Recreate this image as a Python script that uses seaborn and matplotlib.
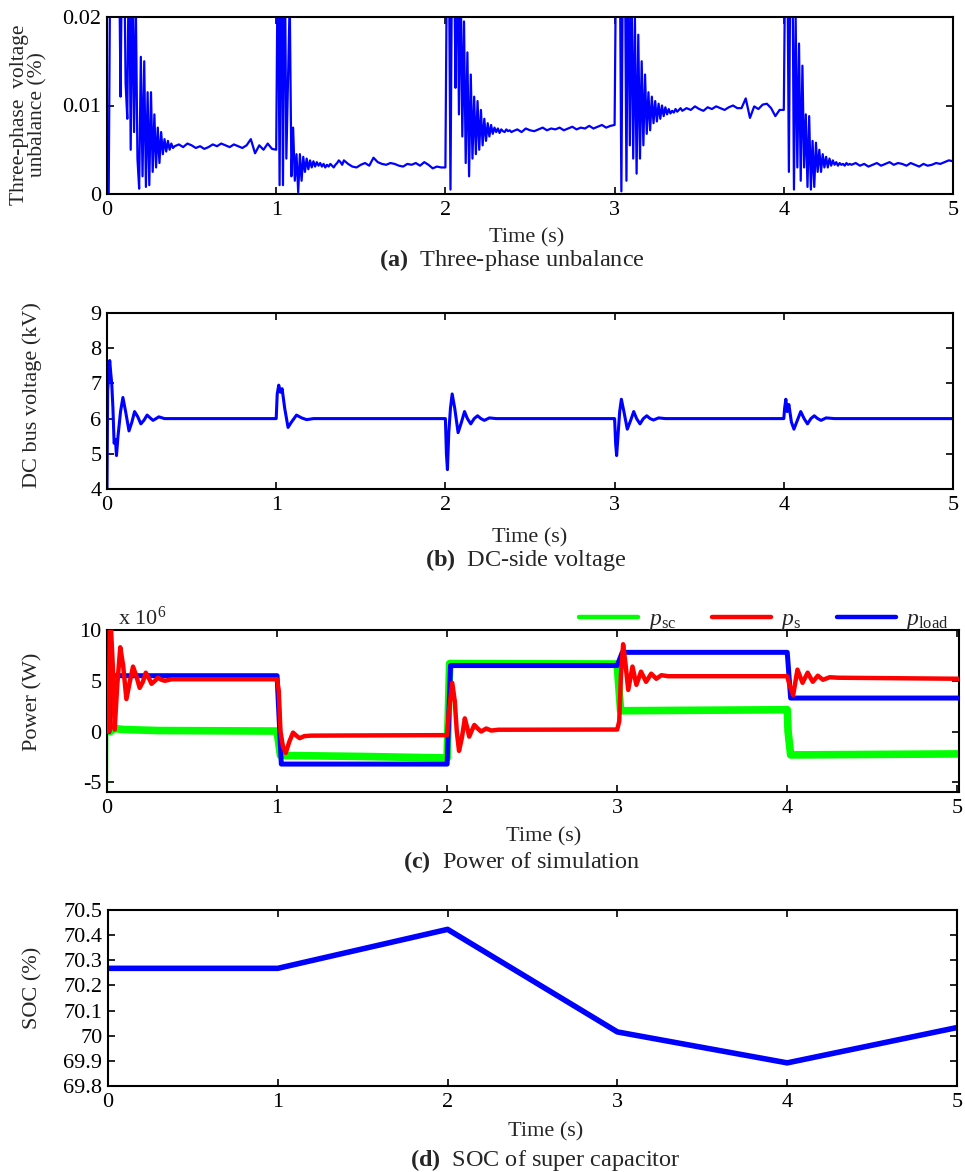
import numpy as np
import matplotlib
matplotlib.use('Agg')
import matplotlib.pyplot as plt
import seaborn as sns
from matplotlib.lines import Line2D
from matplotlib.ticker import FuncFormatter

# --- (a) Three-phase voltage unbalance (%) ---
# each second: transient read every 0.01 s (0.00-0.39), then steady read every 0.025 s (0.40-0.975)
unb_osc_0 = [0.0, 0.0, 0.03, 0.03, 0.03, 0.03, 0.03, 0.03, 0.011, 0.03,
             0.03, 0.0125, 0.0085, 0.03, 0.005, 0.025, 0.007, 0.022, 0.004, 0.0006,
             0.0155, 0.002, 0.015, 0.0008, 0.0115, 0.001, 0.0115, 0.0025, 0.009, 0.003,
             0.0075, 0.0035, 0.007, 0.0045, 0.0062, 0.0048, 0.006, 0.005, 0.0057, 0.0052]
unb_steady_0 = [0.0054, 0.0056, 0.0053, 0.0057, 0.0055, 0.0052, 0.0054, 0.0051, 0.0053, 0.0056,
                0.0054, 0.0057, 0.0055, 0.0053, 0.0056, 0.0054, 0.0052, 0.0055, 0.0062, 0.0046,
                0.0055, 0.0050, 0.0057, 0.0051]
unb_osc_1 = [0.005, 0.03, 0.001, 0.03, 0.001, 0.03, 0.004, 0.013, 0.022, 0.002,
             0.0075, 0.0015, 0.0045, 0.0002, 0.0045, 0.0015, 0.0042, 0.0025, 0.004, 0.0028,
             0.0038, 0.003, 0.0037, 0.0031, 0.0036, 0.0032, 0.0035, 0.0031, 0.0034, 0.0030,
             0.0033, 0.0031, 0.0034, 0.0032, 0.0030, 0.0033, 0.0035, 0.0038, 0.0036, 0.0033]
unb_steady_1 = [0.0038, 0.0034, 0.0031, 0.0030, 0.0033, 0.0035, 0.0032, 0.0041, 0.0036, 0.0034,
                0.0033, 0.0035, 0.0034, 0.0032, 0.0031, 0.0034, 0.0033, 0.0035, 0.0032, 0.0036,
                0.0033, 0.0029, 0.0031, 0.0030]
unb_osc_2 = [0.003, 0.03, 0.03, 0.0005, 0.03, 0.03, 0.012, 0.03, 0.009, 0.025,
             0.0065, 0.0195, 0.0035, 0.016, 0.002, 0.0135, 0.004, 0.011, 0.0045, 0.0105,
             0.005, 0.0095, 0.0055, 0.0085, 0.006, 0.008, 0.0065, 0.0078, 0.0068, 0.0075,
             0.0070, 0.0074, 0.0069, 0.0073, 0.0071, 0.0070, 0.0073, 0.0071, 0.0072, 0.0070]
unb_steady_2 = [0.0071, 0.0073, 0.0070, 0.0074, 0.0072, 0.0071, 0.0073, 0.0075, 0.0072, 0.0074,
                0.0073, 0.0075, 0.0072, 0.0074, 0.0076, 0.0073, 0.0075, 0.0074, 0.0077, 0.0074,
                0.0076, 0.0078, 0.0075, 0.0077]
unb_osc_3 = [0.0078, 0.03, 0.03, 0.03, 0.0003, 0.03, 0.03, 0.0015, 0.03, 0.0055,
             0.024, 0.004, 0.02, 0.0023, 0.018, 0.004, 0.015, 0.0055, 0.0135, 0.0068,
             0.0115, 0.0072, 0.011, 0.008, 0.0105, 0.0082, 0.0102, 0.0085, 0.01, 0.0088,
             0.0098, 0.009, 0.0096, 0.0091, 0.0094, 0.0092, 0.0096, 0.0093, 0.0095, 0.0097]
unb_steady_3 = [0.0094, 0.0097, 0.0095, 0.0099, 0.0096, 0.0094, 0.0098, 0.0096, 0.0099, 0.0097,
                0.0095, 0.0098, 0.0100, 0.0097, 0.0097, 0.0108, 0.0086, 0.0099, 0.0096, 0.0101,
                0.0102, 0.0097, 0.0088, 0.0095]
unb_osc_4 = [0.0095, 0.03, 0.03, 0.0025, 0.03, 0.03, 0.0005, 0.02, 0.003, 0.017,
             0.0015, 0.0145, 0.003, 0.009, 0.0008, 0.0088, 0.0005, 0.006, 0.0008, 0.0058,
             0.0025, 0.005, 0.0025, 0.0045, 0.003, 0.0042, 0.003, 0.004, 0.0032, 0.0038,
             0.0033, 0.0036, 0.0032, 0.0035, 0.0033, 0.0034, 0.0032, 0.0035, 0.0033, 0.0034]
unb_steady_4 = [0.0033, 0.0035, 0.0032, 0.0034, 0.0031, 0.0033, 0.0035, 0.0032, 0.0034, 0.0036,
                0.0033, 0.0035, 0.0034, 0.0032, 0.0035, 0.0033, 0.0031, 0.0034, 0.0032, 0.0033,
                0.0035, 0.0034, 0.0036, 0.0038]
unb_end = 0.0037

# --- (b) DC bus voltage (kV) ---
dc_t0 = [0.0, 0.004, 0.010, 0.016, 0.022, 0.028, 0.035, 0.042, 0.050, 0.056, 0.065, 0.080,
         0.094, 0.110, 0.130, 0.147, 0.163, 0.182, 0.200, 0.218, 0.237, 0.255, 0.272, 0.290, 0.306, 0.340]
dc_v0 = [4.0, 6.8, 7.2, 7.65, 7.3, 7.0, 6.3, 5.3, 5.4, 4.95, 5.5, 6.2,
         6.6, 6.2, 5.65, 5.9, 6.2, 6.05, 5.85, 5.95, 6.1, 6.02, 5.95, 6.0, 6.05, 6.0]
dc_t1 = [0.99, 1.0, 1.006, 1.015, 1.025, 1.035, 1.05, 1.07, 1.09, 1.12, 1.15, 1.18, 1.22]
dc_v1 = [6.0, 6.0, 6.7, 6.95, 6.75, 6.85, 6.3, 5.75, 5.9, 6.1, 6.02, 5.97, 6.0]
dc_t2 = [1.99, 2.0, 2.006, 2.012, 2.02, 2.03, 2.04, 2.055, 2.075, 2.095, 2.113, 2.13, 2.15,
         2.17, 2.19, 2.21, 2.23, 2.26, 2.3]
dc_v2 = [6.0, 6.0, 5.0, 4.55, 5.6, 6.3, 6.7, 6.3, 5.6, 5.9, 6.2, 6.0, 5.85,
         6.0, 6.08, 6.0, 5.95, 6.02, 6.0]
dc_t3 = [2.99, 3.0, 3.006, 3.012, 3.02, 3.03, 3.04, 3.055, 3.075, 3.095, 3.113, 3.13, 3.15,
         3.17, 3.19, 3.21, 3.23, 3.26, 3.3]
dc_v3 = [6.0, 6.0, 5.3, 4.95, 5.5, 6.2, 6.55, 6.2, 5.7, 5.95, 6.2, 6.0, 5.85,
         6.0, 6.08, 6.0, 5.96, 6.02, 6.0]
dc_t4 = [3.99, 4.0, 4.005, 4.012, 4.02, 4.03, 4.045, 4.06, 4.08, 4.1, 4.12, 4.14, 4.16,
         4.18, 4.2, 4.22, 4.25, 4.3, 5.0]
dc_v4 = [6.0, 6.0, 6.3, 6.55, 6.2, 6.4, 5.9, 5.7, 5.95, 6.2, 6.0, 5.85, 6.0,
         6.08, 6.0, 5.95, 6.02, 6.0, 6.0]

# --- (c) Power (x 10^6 W) ---
pload_t = [0.0, 0.012, 0.025, 1.0, 1.025, 2.0, 2.02, 3.0, 3.03, 4.0, 4.02, 5.01]
pload = [0.0, 0.0, 5.5, 5.5, -3.2, -3.2, 6.5, 6.5, 7.8, 7.8, 3.3, 3.3]

ps_t = [0.0, 0.010, 0.016, 0.024, 0.034, 0.045, 0.060, 0.078, 0.095, 0.114, 0.133, 0.153,
        0.172, 0.192, 0.211, 0.228, 0.245, 0.262, 0.282, 0.300, 0.320, 0.340, 0.380,
        1.0, 1.01, 1.02, 1.035, 1.051, 1.072, 1.094, 1.113, 1.133, 1.16, 1.2,
        2.0, 2.01, 2.03, 2.045, 2.057, 2.07, 2.087, 2.104, 2.118, 2.13, 2.145, 2.16, 2.18,
        2.20, 2.23, 2.26, 2.3,
        3.0, 3.012, 3.022, 3.035, 3.05, 3.065, 3.09, 3.113, 3.14, 3.17, 3.2, 3.23, 3.26, 3.3,
        4.0, 4.015, 4.035, 4.06, 4.09, 4.12, 4.15, 4.18, 4.21, 4.25, 4.3, 5.01]
ps = [0.0, 0.0, 9.9, 10.0, 6.5, 0.2, 4.5, 8.3, 6.5, 3.2, 4.8, 6.4,
      5.5, 4.3, 4.9, 5.8, 5.3, 4.7, 5.0, 5.3, 5.1, 5.0, 5.15,
      5.15, 4.0, 0.0, -1.5, -2.1, -1.0, -0.1, -0.4, -0.65, -0.45, -0.4,
      -0.35, 2.0, 4.8, 3.0, 0.0, -1.9, -0.6, 1.3, 0.4, -0.5, 0.1, 0.65, 0.3,
      0.0, 0.3, 0.1, 0.18,
      0.2, 1.0, 5.5, 8.6, 6.5, 4.1, 6.4, 4.6, 5.9, 4.9, 5.7, 5.2, 5.55, 5.45,
      5.45, 4.5, 3.6, 6.1, 4.8, 5.8, 4.9, 5.5, 5.1, 5.35, 5.3, 5.2]

psc_t = [0.002, 0.02, 0.04, 0.10, 0.30, 1.0, 1.02, 1.5, 2.0, 2.015, 3.0, 3.02, 4.0, 4.005, 4.02, 5.01]
psc = [0.0, 0.0, 0.3, 0.2, 0.1, 0.05, -2.35, -2.45, -2.6, 6.7, 6.65, 2.05, 2.15, 0.0, -2.3, -2.2]
psc_spike_t = [0.0, 0.0, 0.002]
psc_spike = [6.7, -5.9, 0.0]

# --- (d) SOC of super capacitor (%) ---
soc_t = [0, 1, 2, 3, 4, 5]
soc = [70.268, 70.268, 70.423, 70.015, 69.892, 70.0325]

sns.set_theme(style='ticks')
plt.rcParams['font.family'] = ['Liberation Serif', 'DejaVu Serif']
plt.rcParams['mathtext.fontset'] = 'custom'
plt.rcParams['mathtext.rm'] = 'Liberation Serif'
plt.rcParams['mathtext.it'] = 'Liberation Serif:italic'
plt.rcParams['mathtext.bf'] = 'Liberation Serif:bold'

FS = 16        # ticks and axis labels
CAP_FS = 17.5  # panel captions
BLUE, RED, GREEN = '#0000FF', '#FF0000', '#00FF00'

fig = plt.figure(figsize=(9.65, 11.72), dpi=100)
H = 1172.0
W = 965.0


def make_axes(left, right, top, bottom):
    return fig.add_axes([left / W, 1 - bottom / H, (right - left) / W, (bottom - top) / H])


def style(ax, ylim, yticks, ylabel, ylab_x, ylab_y, xlab_x, xlab_y, xlim=(0, 5), ylab_fs=FS):
    ax.set_xlim(*xlim)
    ax.set_ylim(*ylim)
    ax.set_xticks(range(6))
    ax.set_yticks(yticks)
    ax.yaxis.set_major_formatter(FuncFormatter(lambda v, p: ('%.2f' % v).rstrip('0').rstrip('.')))
    ax.tick_params(direction='in', top=True, right=True, length=5, width=1.2,
                   labelsize=FS, colors='black', pad=4)
    ax.tick_params(axis='x', pad=5)
    for s in ax.spines.values():
        s.set_linewidth(1.5)
        s.set_color('black')
    ax.set_xlabel('Time (s)', fontsize=FS)
    ax.xaxis.set_label_coords(xlab_x, xlab_y)
    ax.xaxis.label.set_va('center')
    ax.set_ylabel(ylabel, fontsize=ylab_fs, linespacing=0.95)
    ax.yaxis.set_label_coords(ylab_x, ylab_y)
    ax.yaxis.label.set_va('center')
    ax.grid(False)


# (a)
ax_a = make_axes(107, 953, 17, 194)
t_a, v_a = [], []
osc = [unb_osc_0, unb_osc_1, unb_osc_2, unb_osc_3, unb_osc_4]
steady = [unb_steady_0, unb_steady_1, unb_steady_2, unb_steady_3, unb_steady_4]
for k in range(5):
    t_a += list(k + 0.01 * np.arange(len(osc[k])))
    v_a += osc[k]
    t_a += list(k + 0.4 + 0.025 * np.arange(len(steady[k])))
    v_a += steady[k]
t_a.append(5.0)
v_a.append(unb_end)
sns.lineplot(x=np.array(t_a), y=np.array(v_a), ax=ax_a, color=BLUE, lw=1.6,
             estimator=None, sort=False)
style(ax_a, (0, 0.02), [0, 0.01, 0.02], 'Three-phase  voltage\nunbalance (%)',
      -0.092, 0.45, 0.496, -(238 - 194) / 177, ylab_fs=15.5)
fig.text(512 / W, 1 - 260 / H, r'$\mathbf{(a)}$  Three-phase unbalance', ha='center', va='center', fontsize=CAP_FS)

# (b)
ax_b = make_axes(107, 953, 313, 489)
t_b = dc_t0 + dc_t1 + dc_t2 + dc_t3 + dc_t4
v_b = dc_v0 + dc_v1 + dc_v2 + dc_v3 + dc_v4
sns.lineplot(x=np.array(t_b), y=np.array(v_b), ax=ax_b, color=BLUE, lw=2.2,
             estimator=None, sort=False)
style(ax_b, (4, 9), range(4, 10), 'DC bus voltage (kV)',
      -0.0887, 0.534, 0.5, -(538 - 489) / 176)
fig.text(526 / W, 1 - 560 / H, r'$\mathbf{(b)}$  DC-side voltage', ha='center', va='center', fontsize=CAP_FS)

# (c)
ax_c = make_axes(107, 959, 630, 792)
sns.lineplot(x=np.array(psc_t), y=np.array(psc), ax=ax_c, color=GREEN, lw=5.5,
             estimator=None, sort=False, zorder=2)
sns.lineplot(x=np.array(psc_spike_t), y=np.array(psc_spike), ax=ax_c, color=GREEN, lw=1.5,
             estimator=None, sort=False, zorder=2)
sns.lineplot(x=np.array(pload_t), y=np.array(pload), ax=ax_c, color=BLUE, lw=3.6,
             estimator=None, sort=False, zorder=3)
sns.lineplot(x=np.array(ps_t), y=np.array(ps), ax=ax_c, color=RED, lw=3.2,
             estimator=None, sort=False, zorder=4)
style(ax_c, (-5.95, 10), [-5, 0, 5, 10], 'Power (W)',
      -0.0869, 0.556, 0.513, -(837 - 792) / 162, xlim=(0, 5.01))
ax_c.text(0.013, 1.0, r'x 10$^{6}$', transform=ax_c.transAxes, fontsize=FS, ha='left', va='bottom')
handles = [Line2D([], [], color=GREEN, lw=3.2, solid_capstyle='round'),
           Line2D([], [], color=RED, lw=3.2, solid_capstyle='round'),
           Line2D([], [], color=BLUE, lw=3.2, solid_capstyle='round')]
ax_c.legend(handles, [r'$p_{\rm sc}$', r'$p_{\rm s}$', r'$p_{\rm load}$'], ncol=3, frameon=False,
            loc='lower right', bbox_to_anchor=(0.999, 0.93), fontsize=17, handlelength=2.5,
            handletextpad=0.4, columnspacing=1.5, borderaxespad=0)
fig.text(522 / W, 1 - 862 / H, r'$\mathbf{(c)}$  Power of simulation', ha='center', va='center', fontsize=CAP_FS)

# (d)
ax_d = make_axes(108, 957, 910, 1086)
sns.lineplot(x=soc_t, y=soc, ax=ax_d, color=BLUE, lw=4, estimator=None, sort=False)
style(ax_d, (69.8, 70.5), np.round(np.arange(69.8, 70.51, 0.1), 1), 'SOC (%)',
      -0.0883, 0.557, 0.516, -(1132 - 1086) / 176)
fig.text(545 / W, 1 - 1160 / H, r'$\mathbf{(d)}$  SOC of super capacitor', ha='center', va='center', fontsize=CAP_FS)

fig.savefig('out.png', dpi=100)
